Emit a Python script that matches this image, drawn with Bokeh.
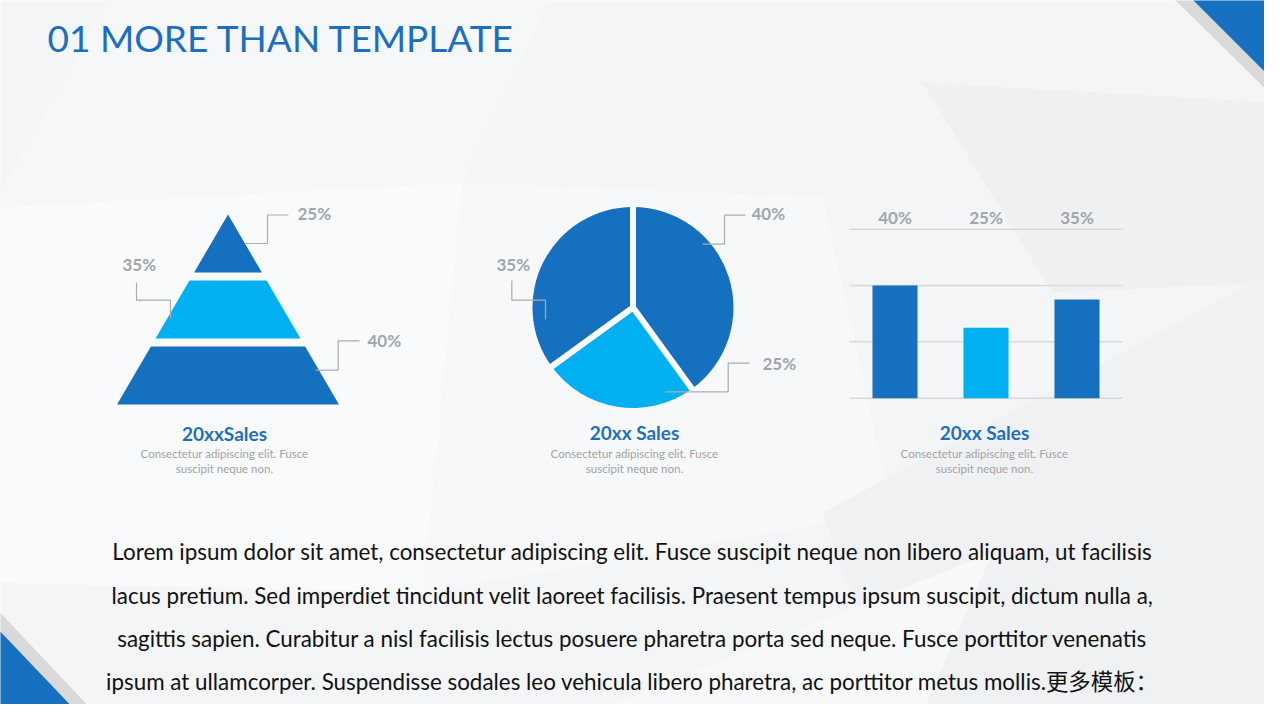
import numpy as np
from bokeh.plotting import figure
from bokeh.models import Range1d
from bokeh.core.properties import value
from bokeh.embed import file_html
from bokeh.resources import INLINE

# ---------------- data ----------------
title_text = "01 MORE THAN TEMPLATE"
pyramid_labels = ["25%", "35%", "40%"]          # top -> bottom tier
pyramid_values = [25, 35, 40]
pie_labels = ["40%", "25%", "35%"]              # clockwise from 12 o'clock
pie_values = [40, 25, 35]
bar_categories = ["A", "B", "C"]
bar_values = [40, 25, 35]
bar_labels = ["40%", "25%", "35%"]
bar_ticks = [0, 20, 40, 60]
section_titles = ["20xxSales", "20xx Sales", "20xx Sales"]
section_desc = ["Consectetur adipiscing elit. Fusce", "suscipit neque non."]
body_lines = [
    "Lorem ipsum dolor sit amet, consectetur adipiscing elit. Fusce suscipit neque non libero aliquam, ut facilisis",
    "lacus pretium. Sed imperdiet tincidunt velit laoreet facilisis. Praesent tempus ipsum suscipit, dictum nulla a,",
    "sagittis sapien. Curabitur a nisl facilisis lectus posuere pharetra porta sed neque. Fusce porttitor venenatis",
    "ipsum at ullamcorper. Suspendisse sodales leo vehicula libero pharetra, ac porttitor metus mollis.更多模板：",
]

# ---------------- style ----------------
DARK = "#1670C0"
LIGHT = "#00B0F0"
GRAY_TXT = "#9FA7AB"
LEADER = "#A9ADB0"
BG = "#F4F5F7"
tier_colors = [DARK, LIGHT, DARK]

def Y(py):  # page y (from top) -> data y
    return 720 - py

p = figure(width=1264, height=704, x_range=Range1d(8, 1272), y_range=Range1d(8, 712),
           output_backend="svg", toolbar_location=None, min_border=0,
           x_axis_location=None, y_axis_location=None,
           background_fill_color=BG, border_fill_color=BG, outline_line_color=None)
p.grid.visible = False

# ---------------- background facets ----------------
facets = [
    ([0, 470, 430, 0], [215, 190, 600, 590], "#F9FAFB"),
    ([470, 830, 900, 430], [190, 205, 520, 600], "#F7F8F9"),
    ([930, 1280, 1280, 1060], [90, 110, 290, 300], "#EFF0F2"),
    ([830, 1280, 1280, 900], [520, 280, 720, 720], "#F0F1F3"),
    ([120, 560, 470, 0], [0, 0, 190, 215], "#F6F7F8"),
    ([600, 1000, 930, 470], [720, 560, 720, 720], "#F7F8F9"),
]
for xs, ys, c in facets:
    p.patch(xs, [Y(v) for v in ys], color=c, line_color=None)

# corner triangles
p.patch([1175, 1280, 1280], [Y(0), Y(0), Y(103)], color="#D9D9D9", line_color=None)
p.patch([1193, 1280, 1280], [Y(0), Y(0), Y(87)], color=DARK, line_color=None)
p.patch([0, 0, 102], [Y(612), Y(720), Y(720)], color="#D9D9D9", line_color=None)
p.patch([0, 0, 85], [Y(631), Y(720), Y(720)], color=DARK, line_color=None)

# ---------------- title ----------------
p.text(x=[55], y=[Y(45)], text=[title_text], text_font=value("Lato"),
       text_font_size="37px", text_color="#1B6EC1", text_baseline="middle")

# ---------------- pyramid ----------------
cx, apex_y, base_y, half_base, gap = 235.5, 222.0, 412.0, 111.0, 8.0
n = len(pyramid_values)
tier_h = (base_y - apex_y - gap * (n - 1)) / n
hw = lambda y: (y - apex_y) / (base_y - apex_y) * half_base
pxs, pys = [], []
for i in range(n):
    top = apex_y + i * (tier_h + gap)
    bot = top + tier_h
    pxs.append([cx - hw(top), cx + hw(top), cx + hw(bot), cx - hw(bot)])
    pys.append([Y(top), Y(top), Y(bot), Y(bot)])
p.patches(pxs, pys, color=tier_colors, line_color=None)

pyr_leaders = [
    ([253, 275, 275, 296], [251, 251, 222.5, 222.5]),
    ([178, 178, 144, 144], [326, 307.7, 307.7, 290]),
    ([323, 345.7, 345.7, 367], [377.7, 377.7, 348.3, 348.3]),
]
p.multi_line([l[0] for l in pyr_leaders], [[Y(v) for v in l[1]] for l in pyr_leaders],
             line_color=LEADER, line_width=1.2)
p.text(x=[305, 130, 375], y=[Y(221), Y(272), Y(348)], text=pyramid_labels,
       text_font=value("Lato"), text_font_style="bold", text_font_size="17px",
       text_color=GRAY_TXT, text_baseline="middle", text_align="left")

# ---------------- pie ----------------
pcx, pcy, pr = 640.5, Y(315), 100.5
frac = np.array(pie_values, dtype=float) / np.sum(pie_values)
cum = np.concatenate([[0], np.cumsum(frac)])
starts = np.pi / 2 - 2 * np.pi * cum[:-1]
ends = np.pi / 2 - 2 * np.pi * cum[1:]
p.wedge(x=pcx, y=pcy, radius=pr, start_angle=starts, end_angle=ends, direction="clock",
        color=tier_colors, line_color=None)
p.ray(x=[pcx] * len(starts), y=[pcy] * len(starts), length=pr + 2, angle=starts,
      line_color="white", line_width=6)

pie_leaders = [
    ([710, 732, 732, 753], [251.7, 251.7, 222.7, 222.7]),
    ([672.7, 735.7, 735.7, 757], [399.3, 399.3, 370.7, 370.7]),
    ([553, 553, 519.3, 519.3], [327, 307.7, 307.7, 288]),
]
p.multi_line([l[0] for l in pie_leaders], [[Y(v) for v in l[1]] for l in pie_leaders],
             line_color=LEADER, line_width=1.2)
p.text(x=[759, 770, 504], y=[Y(221), Y(371), Y(272)], text=pie_labels,
       text_font=value("Lato"), text_font_style="bold", text_font_size="17px",
       text_color=GRAY_TXT, text_baseline="middle", text_align="left")

# ---------------- bar chart (own scales) ----------------
BX0, BDX = 902.5, 91.0      # page x of first category, spacing
BY0, BK = 405.7, 2.8167     # page y of value 0, px per unit
p.extra_x_ranges = {"bar": Range1d(start=(8 - BX0) / BDX, end=(1272 - BX0) / BDX)}
p.extra_y_ranges = {"bar": Range1d(start=(8 - Y(BY0)) / BK, end=(712 - Y(BY0)) / BK)}
idx = list(range(len(bar_values)))
p.segment(x0=[-0.5] * len(bar_ticks), x1=[2.5] * len(bar_ticks), y0=bar_ticks, y1=bar_ticks,
          x_range_name="bar", y_range_name="bar", line_color="#D9D9D9", line_width=1.5)
p.vbar(x=idx, top=bar_values, bottom=0, width=0.495, color=tier_colors, line_color=None,
       x_range_name="bar", y_range_name="bar")
p.text(x=idx, y=[64.2] * len(idx), text=bar_labels, x_range_name="bar", y_range_name="bar",
       text_font=value("Lato"), text_font_style="bold", text_font_size="17px",
       text_color=GRAY_TXT, text_baseline="middle", text_align="center")

# ---------------- captions ----------------
cap_x = [232, 642, 992]
p.text(x=cap_x, y=[Y(441), Y(440), Y(440)], text=section_titles, text_font=value("Lato"),
       text_font_style="bold", text_font_size="19px", text_color="#1F6FBF",
       text_baseline="middle", text_align="center")
for j, line in enumerate(section_desc):
    p.text(x=cap_x, y=[Y(461 + 15 * j)] * 3, text=[line] * 3, text_font=value("Lato"),
           text_font_size="11.5px", text_color="#A3A3A3", text_baseline="middle",
           text_align="center")

# ---------------- body text ----------------
body_y = [559, 602.5, 646, 689]
p.text(x=[640] * len(body_lines), y=[Y(v) for v in body_y], text=body_lines,
       text_font=value("Lato, 'Noto Sans CJK SC'"), text_font_size="22.4px",
       text_color="#111111", text_baseline="middle", text_align="center")

open("out.html", "w").write(file_html(p, INLINE))
